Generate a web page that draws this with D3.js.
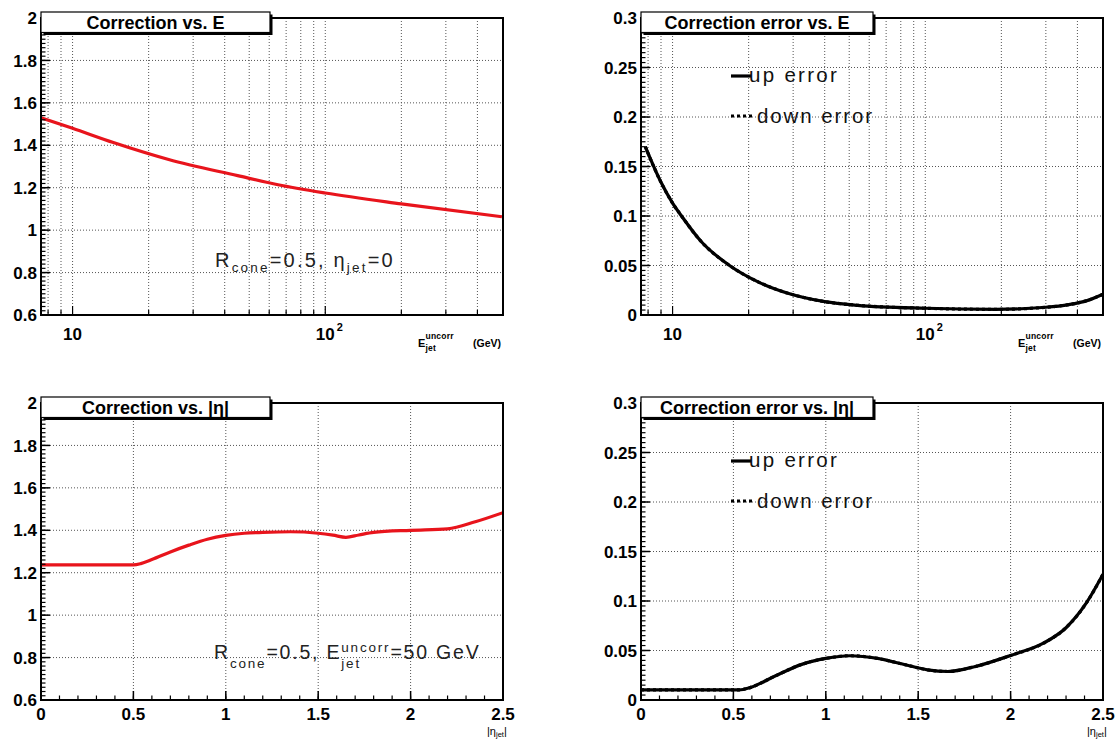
<!DOCTYPE html>
<html><head><meta charset="utf-8">
<script src="https://cdn.jsdelivr.net/npm/d3@7"></script>
<style>body{margin:0;background:#fff;} svg{display:block;font-family:"Liberation Sans",Arial,Helvetica,sans-serif;}</style>
</head><body>
<svg id="c" width="1120" height="741"></svg>
<script>
// ---------- data ----------
const energyGeV   = [7.5, 10, 14.5, 24, 45, 65, 100, 200, 500];
const corrVsE     = [1.53, 1.48, 1.413, 1.333, 1.257, 1.214, 1.175, 1.124, 1.063];

const energyErrGeV = [7.8, 9, 10, 10.85, 13, 16.8, 22, 28.6, 40, 54, 100, 190, 300, 370, 430, 505];
const upErrVsE     = [0.17, 0.134, 0.113, 0.1, 0.074, 0.05, 0.033, 0.022, 0.0135, 0.0098, 0.0068, 0.0057, 0.0078, 0.0105, 0.014, 0.021];
const downErrVsE   = [0.17, 0.134, 0.113, 0.1, 0.074, 0.05, 0.033, 0.022, 0.0135, 0.0098, 0.0068, 0.0057, 0.0078, 0.0105, 0.014, 0.021];

const etaAbs    = [0, 0.5, 0.54, 0.6, 0.7, 0.8, 0.9, 1.0, 1.1, 1.2, 1.35, 1.5, 1.58, 1.65, 1.72, 1.8, 2.0, 2.2, 2.35, 2.5];
const corrVsEta = [1.237, 1.237, 1.243, 1.262, 1.298, 1.33, 1.358, 1.376, 1.386, 1.39, 1.393, 1.386, 1.377, 1.367, 1.378, 1.39, 1.4, 1.407, 1.44, 1.483];

const etaErrAbs   = [0, 0.53, 0.59, 0.72, 0.87, 1.0, 1.13, 1.28, 1.43, 1.55, 1.66, 1.81, 2.0, 2.18, 2.3, 2.41, 2.5];
const upErrVsEta  = [0.0102, 0.0102, 0.0125, 0.0237, 0.036, 0.042, 0.0447, 0.042, 0.0356, 0.0305, 0.0288, 0.0339, 0.045, 0.0576, 0.073, 0.098, 0.127];
const downErrVsEta= [0.0102, 0.0102, 0.0125, 0.0237, 0.036, 0.042, 0.0447, 0.042, 0.0356, 0.0305, 0.0288, 0.0339, 0.045, 0.0576, 0.073, 0.098, 0.127];

const corrTicks = [0.6, 0.8, 1, 1.2, 1.4, 1.6, 1.8, 2];
const errTicks  = [0, 0.05, 0.1, 0.15, 0.2, 0.25, 0.3];
const etaTicks  = [0, 0.5, 1, 1.5, 2, 2.5];
const logGrid   = [8, 9, 10, 20, 30, 40, 50, 60, 70, 80, 90, 100, 200, 300, 400];
const logLabels = [10, 100];

const titles = ["Correction vs. E", "Correction error vs. E", "Correction vs. |η|", "Correction error vs. |η|"];
const legendLabels = ["up error", "down error"];

// ---------- layout ----------
const svg = d3.select("#c");
svg.append("rect").attr("width",1120).attr("height",741).attr("fill","#fff");
const W = 462, H = 297;

function richText(g, x, y, segs, opts) {
  let cx = x;
  const ls = opts.ls || 0;
  segs.forEach(s => {
    const parts = s.stack ? s.stack : [s];
    let adv = 0;
    parts.forEach(p => {
      const t = g.append("text").attr("x", cx).attr("y", y + (p.dy || 0))
        .attr("font-size", p.size).attr("font-weight", opts.bold ? "bold" : "normal")
        .attr("fill", opts.fill || "#000").attr("letter-spacing", ls).text(p.t);
      adv = Math.max(adv, t.node().getComputedTextLength());
    });
    cx += adv;
  });
}

function minorRange(lo, hi, step) {
  const n = Math.round((hi - lo) / step);
  return d3.range(n + 1).map(i => lo + i * step);
}

function panel(p, idx) {
  const g = svg.append("g");
  const x = p.x, y = p.y;
  const [x0, x1] = x.range();
  const [y1, y0] = y.range();

  // grid
  g.selectAll(null).data(p.xGrid.filter(d => x(d) > x0 + 1 && x(d) < x1 - 1)).join("line")
    .attr("x1", d => x(d)).attr("x2", d => x(d)).attr("y1", y0).attr("y2", y1)
    .attr("stroke", "#555").attr("stroke-width", 1).attr("stroke-dasharray", "1 2");
  g.selectAll(null).data(p.yTicks.filter(d => y(d) > y0 + 1 && y(d) < y1 - 1)).join("line")
    .attr("x1", x0).attr("x2", x1).attr("y1", d => y(d)).attr("y2", d => y(d))
    .attr("stroke", "#555").attr("stroke-width", 1).attr("stroke-dasharray", "1 2");

  // curves
  const cid = "clip" + idx;
  svg.append("clipPath").attr("id", cid).append("rect")
    .attr("x", x0).attr("y", y0).attr("width", x1 - x0).attr("height", y1 - y0);
  const cg = g.append("g").attr("clip-path", `url(#${cid})`);
  p.series.forEach(s => {
    const line = d3.line().x((d, i) => x(s.xs[i])).y(d => y(d)).curve(d3.curveMonotoneX);
    cg.append("path").attr("d", line(s.ys)).attr("fill", "none")
      .attr("stroke", s.color).attr("stroke-width", 3.2)
      .attr("stroke-dasharray", s.dash || null).attr("stroke-linejoin", "round");
  });

  // frame
  g.append("rect").attr("x", x0).attr("y", y0).attr("width", x1 - x0).attr("height", y1 - y0)
    .attr("fill", "none").attr("stroke", "#000").attr("stroke-width", 2);

  // y ticks
  const yMinor = minorRange(p.yTicks[0], p.yTicks[p.yTicks.length - 1], p.yMinorStep);
  g.selectAll(null).data(yMinor).join("line")
    .attr("x1", x0).attr("x2", x0 + 4.5).attr("y1", d => y(d)).attr("y2", d => y(d))
    .attr("stroke", "#000").attr("stroke-width", 1.2);
  g.selectAll(null).data(p.yTicks).join("line")
    .attr("x1", x0).attr("x2", x0 + 9).attr("y1", d => y(d)).attr("y2", d => y(d))
    .attr("stroke", "#000").attr("stroke-width", 1.5);
  g.selectAll(null).data(p.yTicks).join("text")
    .attr("x", x0 - 4).attr("y", d => y(d)).attr("dy", "0.36em")
    .attr("text-anchor", "end").attr("font-size", 17).attr("font-weight", "bold")
    .text(d => d3.format("~g")(d));

  // x ticks
  if (p.log) {
    g.selectAll(null).data(logGrid).join("line")
      .attr("x1", d => x(d)).attr("x2", d => x(d)).attr("y1", y1).attr("y2", d => y1 - (logLabels.includes(d) ? 9 : 5))
      .attr("stroke", "#000").attr("stroke-width", 1.2);
    logLabels.forEach(v => {
      g.append("text").attr("x", x(v)).attr("y", y1 + 25)
        .attr("text-anchor", "middle").attr("font-size", 17).attr("font-weight", "bold").text("10");
      if (v === 100) {
        g.append("text").attr("x", x(v) + 11.5).attr("y", y1 + 16)
          .attr("font-size", 11).attr("font-weight", "bold").text("2");
      }
    });
    const tg = g.append("g");
    richText(tg, x1 - 85, y1 + 32, [
      {t: "E", size: 11},
      {stack: [{t: "uncorr", size: 8.5, dy: -8}, {t: "jet", size: 8.5, dy: 4}]}
    ], {bold: true, ls: 0.2});
    tg.append("text").attr("x", x1 - 2).attr("y", y1 + 32).attr("text-anchor", "end")
      .attr("font-size", 10.5).attr("font-weight", "bold").text("(GeV)");
  } else {
    const xMinor = minorRange(0, 2.5, 0.1);
    g.selectAll(null).data(xMinor).join("line")
      .attr("x1", d => x(d)).attr("x2", d => x(d)).attr("y1", y1).attr("y2", y1 - 4.5)
      .attr("stroke", "#000").attr("stroke-width", 1.2);
    g.selectAll(null).data(etaTicks).join("line")
      .attr("x1", d => x(d)).attr("x2", d => x(d)).attr("y1", y1).attr("y2", y1 - 9)
      .attr("stroke", "#000").attr("stroke-width", 1.5);
    g.selectAll(null).data(etaTicks).join("text")
      .attr("x", d => x(d)).attr("y", y1 + 20).attr("text-anchor", "middle")
      .attr("font-size", 17).attr("font-weight", "bold").text(d => d3.format("~g")(d));
    const tg = g.append("g");
    richText(tg, x1 - 16, y1 + 35, [
      {t: "|η", size: 11},
      {t: "jet", size: 7.5, dy: 2},
      {t: "|", size: 11}
    ], {bold: false, ls: 0});
  }

  // title box
  const bw = p.boxW;
  g.append("rect").attr("x", x0 + 2.5).attr("y", y0 - 3.5).attr("width", bw).attr("height", 20.5).attr("fill", "#000");
  g.append("rect").attr("x", x0).attr("y", y0 - 6).attr("width", bw).attr("height", 20.5)
    .attr("fill", "#fff").attr("stroke", "#000").attr("stroke-width", 1.2);
  g.append("text").attr("x", x0 + bw / 2).attr("y", y0 + 11).attr("text-anchor", "middle")
    .attr("font-size", 18).attr("font-weight", "bold").text(p.title);

  // legend
  if (p.legend) {
    const lx = x0 + 90, ly = y0 + 58;
    g.append("line").attr("x1", lx).attr("x2", lx + 20).attr("y1", ly).attr("y2", ly)
      .attr("stroke", "#000").attr("stroke-width", 3.2);
    g.append("line").attr("x1", lx).attr("x2", lx + 22).attr("y1", ly + 40).attr("y2", ly + 40)
      .attr("stroke", "#000").attr("stroke-width", 3.2).attr("stroke-dasharray", "3 3");
    g.append("text").attr("x", lx + 18).attr("y", ly + 6).attr("font-size", 20.5)
      .attr("letter-spacing", 2.3).attr("fill", "#111").text(legendLabels[0]);
    g.append("text").attr("x", lx + 26).attr("y", ly + 47).attr("font-size", 20.5)
      .attr("letter-spacing", 1.9).attr("fill", "#111").text(legendLabels[1]);
  }

  // annotation
  if (p.note) {
    const ng = g.append("g");
    richText(ng, p.note.x, p.note.y, p.note.segs, {ls: p.note.ls, fill: "#222"});
  }
}

const xE  = (x0) => d3.scaleLog().domain([7.5, 505]).range([x0, x0 + W]);
const xEta= (x0) => d3.scaleLinear().domain([0, 2.5]).range([x0, x0 + W]);
const yCorr = (y0) => d3.scaleLinear().domain([0.6, 2]).range([y0 + H, y0]);
const yErr  = (y0) => d3.scaleLinear().domain([0, 0.3]).range([y0 + H, y0]);

panel({
  x: xE(41), y: yCorr(18), log: true, xGrid: logGrid, yTicks: corrTicks, yMinorStep: 0.02,
  title: titles[0], boxW: 229,
  series: [{xs: energyGeV, ys: corrVsE, color: "#e8141c"}],
  note: {x: 215, y: 267, ls: 2.2, segs: [
    {t: "R", size: 20}, {t: "cone", size: 13.5, dy: 5}, {t: "=0.5, η", size: 20},
    {t: "jet", size: 13.5, dy: 5}, {t: "=0", size: 20}]}
}, 0);

panel({
  x: xE(641), y: yErr(18), log: true, xGrid: logGrid, yTicks: errTicks, yMinorStep: 0.005,
  title: titles[1], boxW: 232, legend: true,
  series: [{xs: energyErrGeV, ys: upErrVsE, color: "#000"},
           {xs: energyErrGeV, ys: downErrVsE, color: "#000", dash: "3 3"}]
}, 1);

panel({
  x: xEta(41), y: yCorr(403), log: false, xGrid: etaTicks, yTicks: corrTicks, yMinorStep: 0.02,
  title: titles[2], boxW: 229,
  series: [{xs: etaAbs, ys: corrVsEta, color: "#e8141c"}],
  note: {x: 214, y: 659, ls: 1.8, segs: [
    {t: "R", size: 19.5}, {t: "cone", size: 13.5, dy: 9}, {t: "=0.5, E", size: 19.5},
    {stack: [{t: "uncorr", size: 13.5, dy: -7}, {t: "jet", size: 13.5, dy: 9}]},
    {t: "=50 GeV", size: 19.5}]}
}, 2);

panel({
  x: xEta(641), y: yErr(403), log: false, xGrid: etaTicks, yTicks: errTicks, yMinorStep: 0.005,
  title: titles[3], boxW: 232, legend: true,
  series: [{xs: etaErrAbs, ys: upErrVsEta, color: "#000"},
           {xs: etaErrAbs, ys: downErrVsEta, color: "#000", dash: "3 3"}]
}, 3);
</script>
</body></html>
